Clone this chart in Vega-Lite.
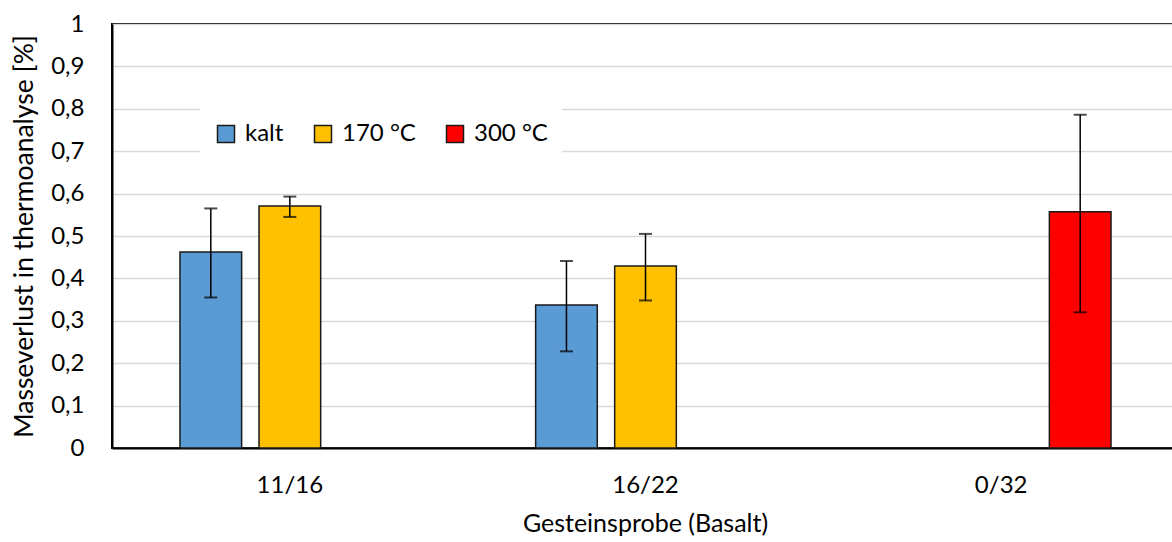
{
  "$schema": "https://vega.github.io/schema/vega-lite/v6.json",
  "width": 1067,
  "height": 424,
  "autosize": {"type": "none"},
  "padding": {"left": 112, "top": 24, "right": 0, "bottom": 94},
  "background": "white",
  "config": {
    "font": "Lato",
    "view": {"stroke": "#000000", "strokeWidth": 2},
    "axis": {"labelFont": "Lato", "titleFont": "Lato", "labelColor": "#000", "titleColor": "#000", "titleFontWeight": "normal"}
  },
  "data": {
    "values": [
      {"cat": "11/16", "series": "kalt", "value": 0.462, "lo": 0.355, "hi": 0.565},
      {"cat": "11/16", "series": "170 °C", "value": 0.571, "lo": 0.545, "hi": 0.593},
      {"cat": "16/22", "series": "kalt", "value": 0.337, "lo": 0.228, "hi": 0.441},
      {"cat": "16/22", "series": "170 °C", "value": 0.429, "lo": 0.348, "hi": 0.505},
      {"cat": "0/32", "series": "300 °C", "value": 0.557, "lo": 0.32, "hi": 0.786}
    ]
  },
  "encoding": {
    "x": {
      "field": "cat", "type": "nominal", "sort": ["11/16", "16/22", "0/32"],
      "scale": {"paddingInner": 0.3333, "paddingOuter": 0.1667},
      "axis": {"title": "Gesteinsprobe (Basalt)", "labelAngle": 0, "labelFontSize": 24, "titleFontSize": 25, "ticks": false, "domainColor": "#000", "domainWidth": 2, "labelPadding": 25, "labelDx": 3, "titlePadding": 14, "titleX": 533}
    },
    "xOffset": {
      "field": "series", "type": "nominal",
      "scale": {"domain": ["kalt", "170 °C", "300 °C"], "paddingInner": 0.22, "paddingOuter": 0.11}
    }
  },
  "layer": [
    {
      "mark": {"type": "bar", "stroke": "#1a1a1a", "strokeWidth": 1.5},
      "encoding": {
        "y": {
          "field": "value", "type": "quantitative",
          "scale": {"domain": [0, 1]},
          "axis": {
            "title": "Masseverlust in thermoanalyse [%]", "titleFontSize": 26.5, "labelFontSize": 24,
            "values": [0, 0.1, 0.2, 0.3, 0.4, 0.5, 0.6, 0.7, 0.8, 0.9, 1],
            "labelExpr": "replace(format(datum.value, '.1~f'), '.', ',')",
            "ticks": false, "domainColor": "#000", "domainWidth": 2, "labelPadding": 28, "titlePadding": 12,
            "grid": true, "gridColor": "#d9d9d9", "gridWidth": 1.5
          }
        },
        "color": {
          "field": "series", "type": "nominal",
          "scale": {"domain": ["kalt", "170 °C", "300 °C"], "range": ["#5B9BD5", "#FFC000", "#FF0000"]},
          "legend": {
            "title": null, "orient": "none", "direction": "horizontal",
            "legendX": 88, "legendY": 84,
            "symbolType": "square", "symbolSize": 289, "symbolStrokeColor": "#1a1a1a", "symbolStrokeWidth": 1.5, "symbolOpacity": 1,
            "labelFontSize": 24, "labelFont": "Lato", "labelColor": "#000", "labelOffset": 7, "columnPadding": 27,
            "fillColor": "white", "padding": 14
          }
        }
      }
    },
    {
      "mark": {"type": "rule", "color": "#000", "strokeWidth": 1.5},
      "encoding": {
        "y": {"field": "lo", "type": "quantitative"},
        "y2": {"field": "hi"}
      }
    },
    {
      "mark": {"type": "tick", "color": "#000", "size": 13, "thickness": 2},
      "encoding": {"y": {"field": "lo", "type": "quantitative"}}
    },
    {
      "mark": {"type": "tick", "color": "#000", "size": 13, "thickness": 2},
      "encoding": {"y": {"field": "hi", "type": "quantitative"}}
    }
  ]
}
